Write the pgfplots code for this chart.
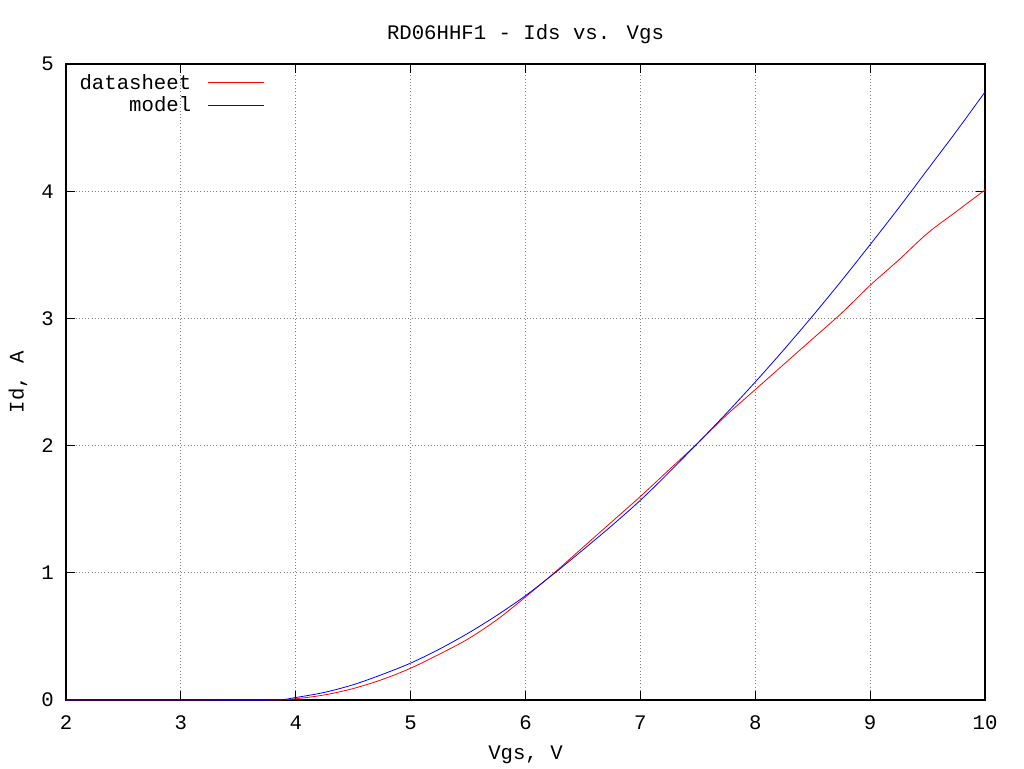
\documentclass[border=0pt]{standalone}
\usepackage{pgfplots}
\pgfplotsset{compat=1.18}
\usepackage{fontspec}
\setmainfont{Liberation Mono}

\begin{document}
\begin{tikzpicture}[font=\fontsize{15.5}{18}\selectfont]
\path[use as bounding box] (-49.5pt,-51pt) rectangle (718.5pt,525pt);
\begin{axis}[
at={(0,0)}, anchor=south west,
scale only axis,
width=689.25pt, height=477pt,
xmin=2, xmax=10, ymin=0, ymax=5,
xtick={2,3,...,10}, ytick={0,1,...,5},
grid=major,
grid style={dotted, gray, line width=0.6pt},
axis line style={line width=0.8pt},
tick style={black, line width=0.8pt},
major tick length=6.5pt,
tick align=inside,
/pgf/number format/assume math mode=true,
xticklabel style={anchor=center, yshift=-17pt},
yticklabel style={anchor=east, inner sep=0pt, xshift=-9pt},
title={RD06HHF1 - Ids vs. Vgs},
title style={at={(axis description cs:0.5,1.034)}, anchor=center},
xlabel={Vgs, V},
xlabel style={at={(axis description cs:0.5,-0.0865)}, anchor=center},
ylabel={Id, A},
ylabel style={at={(axis description cs:-0.0522,0.5)}, anchor=center},
legend plot pos=right,
legend cell align=right,
legend style={draw=none, fill=none, at={(axis description cs:0,1)}, anchor=north west,
  xshift=5pt, yshift=-3.5pt, row sep=0pt, column sep=10pt},
legend image code/.code={\draw[#1] (0,0) -- (42pt,0);},
]
\addplot[red, line width=0.6pt, smooth, tension=0.5] coordinates {
(2.0,0) (3.0,0) (3.8,0) (4.0,0.01) (4.25,0.04) (4.5,0.09) (4.75,0.16)
(5.0,0.25) (5.25,0.36) (5.5,0.48) (5.75,0.63) (6.0,0.81) (6.25,1.00)
(6.5,1.20) (6.75,1.40) (7.0,1.60) (7.25,1.81) (7.5,2.02) (7.75,2.24)
(8.0,2.44) (8.25,2.64) (8.5,2.84) (8.75,3.04) (9.0,3.26) (9.25,3.46)
(9.5,3.67) (9.75,3.84) (10.0,4.01)
};
\addlegendentry{datasheet}
\addplot[blue, line width=0.6pt, smooth, tension=0.5] coordinates {
(2.0,0) (3.0,0) (3.8,0) (4.0,0.02) (4.25,0.06) (4.5,0.12) (4.75,0.20)
(5.0,0.29) (5.25,0.40) (5.5,0.525) (5.75,0.665) (6.0,0.82) (6.25,0.995)
(6.5,1.18) (6.75,1.37) (7.0,1.57) (7.25,1.79) (7.5,2.02) (7.75,2.255)
(8.0,2.50) (8.25,2.755) (8.5,3.02) (8.75,3.295) (9.0,3.58) (9.25,3.87)
(9.5,4.17) (9.75,4.47) (10.0,4.78)
};
\addlegendentry{model}
\end{axis}
\end{tikzpicture}
\end{document}
